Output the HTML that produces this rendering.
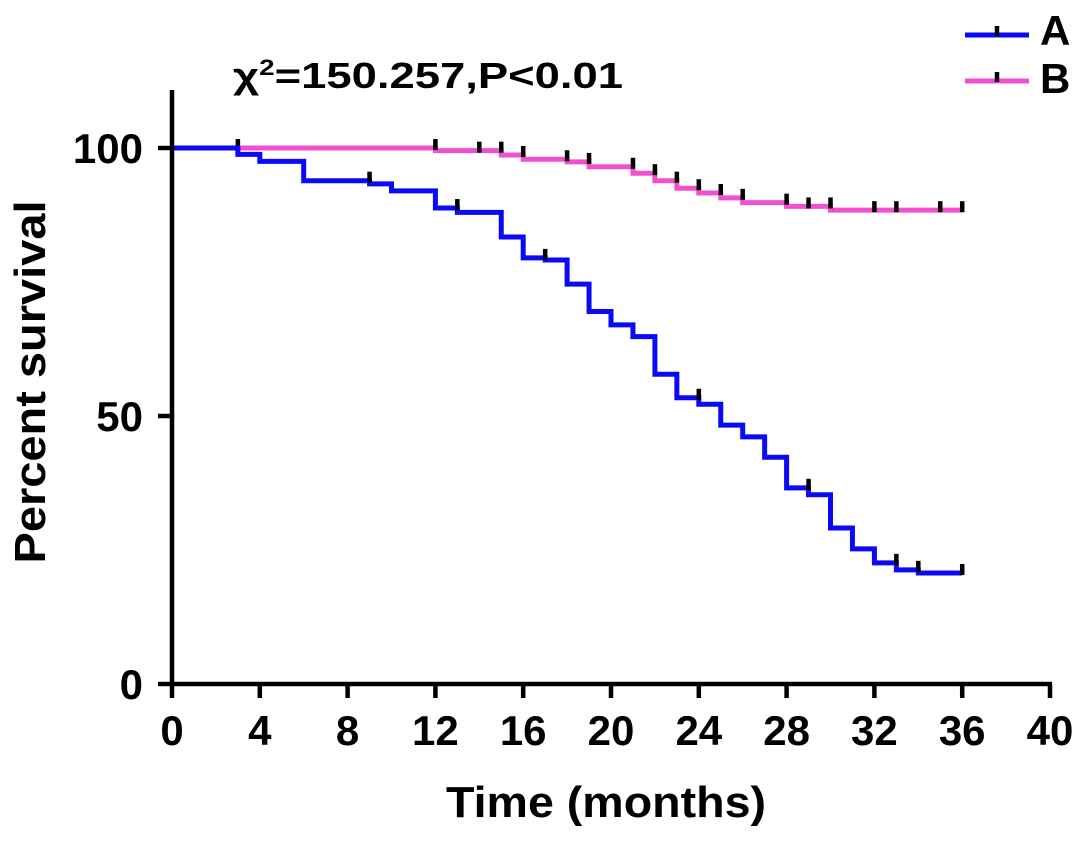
<!DOCTYPE html>
<html><head><meta charset="utf-8"><style>
html,body{margin:0;padding:0;background:#fff;}
svg text{font-family:"Liberation Sans",Arial,sans-serif;font-weight:bold;fill:#000;}
</style></head><body>
<svg id="chart" width="1087" height="839" viewBox="0 0 1087 839" xmlns="http://www.w3.org/2000/svg">
<g id="plot"></g>
</svg>
<script>
const xTicks=[0,4,8,12,16,20,24,28,32,36,40];
const yTicks=[0,50,100];
const stepsA=[[0,100],[3,98.8],[4,97.5],[6,93.9],[9,93.3],[10,92.0],[12,88.8],[13,88.0],[15,83.4],[16,79.5],[17,79.1],[18,74.6],[19,69.5],[20,67.0],[21,64.8],[22,57.8],[23,53.4],[24,52.2],[25,48.3],[26,46.1],[27,42.3],[28,36.6],[29,35.3],[30,29.1],[31,25.2],[32,22.6],[33,21.3],[34,20.7]];
const endA=36;
const censorA=[9,13,17,24,29,33,34,36];
const stepsB=[[0,100],[12,99.5],[15,98.7],[16,97.9],[18,97.4],[19,96.5],[21,95.3],[22,93.9],[23,92.5],[24,91.6],[25,90.7],[26,89.8],[28,89.1],[30,88.4]];
const endB=36;
const censorB=[3,12,14,15,16,18,19,21,22,23,24,25,26,28,29,30,32,33,35,36];

const X0=172,X1=1050,Y0=684,Y1=148;
const xs=t=>X0+(t/40)*(X1-X0);
const ys=v=>Y0-(v/100)*(Y0-Y1);
const NS="http://www.w3.org/2000/svg";
const g=document.getElementById('plot');
function mk(tag,attrs){const e=document.createElementNS(NS,tag);for(const k in attrs)e.setAttribute(k,attrs[k]);g.appendChild(e);return e;}

function levelAt(steps,t){let v=steps[0][1];for(const s of steps){if(s[0]<=t)v=s[1];}return v;}
function drawSeries(steps,end,censor,color,name){
  let d=`M${xs(steps[0][0])},${ys(steps[0][1])}`;
  for(let i=1;i<steps.length;i++){d+=` H${xs(steps[i][0])} V${ys(steps[i][1])}`;}
  d+=` H${xs(end)}`;
  const p=mk('path',{d:d,fill:'none',stroke:color,'stroke-width':5});
  
  
  censor.forEach(t=>{
    const y=ys(levelAt(steps,t-0.001));
    const c=mk('line',{x1:xs(t),x2:xs(t),y1:y-9,y2:y+2,stroke:'#000','stroke-width':4.5});
    
    
  });
}
drawSeries(stepsB,endB,censorB,'#f050d0','group-b');
drawSeries(stepsA,endA,censorA,'#0a0af5','group-a');

let ax=mk('line',{x1:X0,x2:X0,y1:90,y2:Y0+2,stroke:'#000','stroke-width':4.5});


ax=mk('line',{x1:X0-2,x2:X1+2,y1:Y0,y2:Y0,stroke:'#000','stroke-width':4.5});


xTicks.forEach(t=>{
  const l=mk('line',{x1:xs(t),x2:xs(t),y1:Y0,y2:Y0+14,stroke:'#000','stroke-width':4.5});
  
  
  const tx=mk('text',{x:xs(t),y:745,'text-anchor':'middle','font-size':42});
  tx.textContent=t;
  
  
});
yTicks.forEach(v=>{
  const l=mk('line',{x1:X0-14,x2:X0,y1:ys(v),y2:ys(v),stroke:'#000','stroke-width':4.5});
  
  
  const tx=mk('text',{x:143,y:ys(v)+15,'text-anchor':'end','font-size':42});
  tx.textContent=v;
  
  
});
let t=mk('text',{x:446,y:817,'font-size':44,textLength:320,lengthAdjust:'spacingAndGlyphs'});
t.textContent='Time (months)';


t=mk('text',{x:0,y:0,'text-anchor':'middle','font-size':44,textLength:363,lengthAdjust:'spacingAndGlyphs',transform:'translate(45,382) rotate(-90)'});
t.textContent='Percent survival';


t=mk('text',{x:233,y:88,'font-size':36,textLength:390,lengthAdjust:'spacingAndGlyphs'});
t.innerHTML='χ<tspan dy="-13" font-size="22">2</tspan><tspan dy="13">=150.257,P&lt;0.01</tspan>';


[['A','#0a0af5',35,45],['B','#f050d0',81,93]].forEach(([lab,col,y,by])=>{
  const l=mk('line',{x1:965,x2:1029,y1:y,y2:y,stroke:col,'stroke-width':5});
  
  
  const m=mk('line',{x1:997,x2:997,y1:y-9,y2:y+1,stroke:'#000','stroke-width':4.5});
  
  
  const tx=mk('text',{x:1040,y:by,'font-size':42});
  tx.textContent=lab;
  
  
});
</script>
</body></html>
